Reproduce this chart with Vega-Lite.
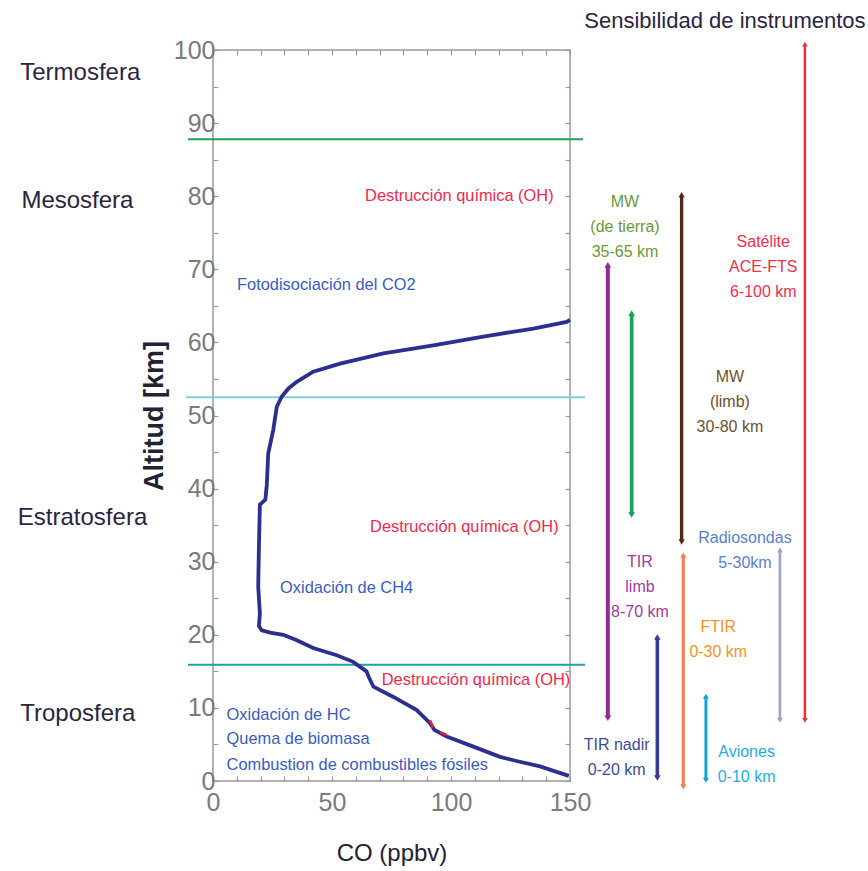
{
  "$schema": "https://vega.github.io/schema/vega-lite/v6.json",
  "autosize": {"type": "none"},
  "padding": {"left": 213, "top": 50, "right": 298, "bottom": 90},
  "width": 357,
  "height": 731,
  "background": "white",
  "config": {
    "view": {"stroke": "#9a9a9a", "strokeWidth": 1.5},
    "font": "Liberation Sans, Arial, sans-serif"
  },
  "datasets": {
    "profile": [
      {"co": 149.5, "alt": 0.7}, {"co": 137.4, "alt": 2.0}, {"co": 128, "alt": 2.7},
      {"co": 120.6, "alt": 3.3}, {"co": 109.4, "alt": 4.7}, {"co": 98.2, "alt": 6.1},
      {"co": 93, "alt": 7.0}, {"co": 91.2, "alt": 7.9}, {"co": 85.6, "alt": 9.7},
      {"co": 75.8, "alt": 11.5}, {"co": 67.4, "alt": 12.9}, {"co": 65.5, "alt": 14.2},
      {"co": 64.5, "alt": 15.0}, {"co": 58.9, "alt": 16.3}, {"co": 52, "alt": 17.2},
      {"co": 42.1, "alt": 18.2}, {"co": 35, "alt": 19.3}, {"co": 29.5, "alt": 20.0},
      {"co": 24, "alt": 20.3}, {"co": 20.5, "alt": 20.6}, {"co": 19.3, "alt": 21.2},
      {"co": 19.7, "alt": 22.9}, {"co": 19.0, "alt": 26.6}, {"co": 19.3, "alt": 32.1},
      {"co": 19.7, "alt": 37.8}, {"co": 22.0, "alt": 38.5}, {"co": 22.6, "alt": 40.5},
      {"co": 23.2, "alt": 44.8}, {"co": 25.3, "alt": 48.0}, {"co": 26.8, "alt": 51.2},
      {"co": 28.9, "alt": 52.6}, {"co": 31.7, "alt": 53.7}, {"co": 35.2, "alt": 54.6},
      {"co": 42.1, "alt": 56.0}, {"co": 53.4, "alt": 57.1}, {"co": 71.6, "alt": 58.5},
      {"co": 92.6, "alt": 59.6}, {"co": 113.6, "alt": 60.8}, {"co": 134.6, "alt": 61.9},
      {"co": 148.6, "alt": 62.8}, {"co": 150, "alt": 63.1}
    ],
    "redbits": [
      {"seg": "a", "co": 91.2, "alt": 8.3}, {"seg": "a", "co": 92.4, "alt": 7.3},
      {"seg": "b", "co": 95.4, "alt": 6.7}, {"seg": "b", "co": 98.2, "alt": 6.3}
    ],
    "boundaries": [
      {"layer": "mesopausa", "alt": 87.8, "from": -10.5, "to": 155.5},
      {"layer": "estratopausa", "alt": 52.5, "from": -11.3, "to": 156.3},
      {"layer": "tropopausa", "alt": 15.9, "from": -10.5, "to": 156.3}
    ],
    "regions": [
      {"name": "Termosfera", "x": -81, "alt": 96.9},
      {"name": "Mesosfera", "x": -80.5, "alt": 79.3},
      {"name": "Estratosfera", "x": -82, "alt": 36.0},
      {"name": "Troposfera", "x": -81, "alt": 9.2}
    ],
    "destruction": [
      {"text": "Destrucción química (OH)", "x": 63.9, "alt": 80.0},
      {"text": "Destrucción química (OH)", "x": 66.0, "alt": 34.7},
      {"text": "Destrucción química (OH)", "x": 70.9, "alt": 13.8}
    ],
    "sources": [
      {"text": "Fotodisociación del CO2", "x": 10.1, "alt": 67.9},
      {"text": "Oxidación de CH4", "x": 28.2, "alt": 26.4},
      {"text": "Oxidación de HC", "x": 5.7, "alt": 9.0},
      {"text": "Quema de biomasa", "x": 5.7, "alt": 5.8},
      {"text": "Combustion de combustibles fósiles", "x": 5.7, "alt": 2.2}
    ],
    "instruments": [
      {"inst": "TIR limb", "x": 165.9, "top": 70.6, "bottom": 8.6},
      {"inst": "MW tierra", "x": 175.9, "top": 64.0, "bottom": 36.4},
      {"inst": "TIR nadir", "x": 186.7, "top": 19.7, "bottom": 0.4},
      {"inst": "MW limb", "x": 196.9, "top": 80.2, "bottom": 32.7},
      {"inst": "FTIR", "x": 197.6, "top": 30.9, "bottom": -0.8},
      {"inst": "Aviones", "x": 207.1, "top": 11.6, "bottom": 0.1},
      {"inst": "Radiosondas", "x": 238.2, "top": 31.6, "bottom": 8.3},
      {"inst": "Satelite", "x": 248.7, "top": 100.8, "bottom": 8.3}
    ],
    "instlabels": [
      {"inst": "MW tierra", "text": "MW\n(de tierra)\n35-65 km", "x": 173.1, "alt": 79.25},
      {"inst": "MW limb", "text": "MW\n(limb)\n30-80 km", "x": 217.2, "alt": 55.3},
      {"inst": "Satelite", "text": "Satélite\nACE-FTS\n6-100 km", "x": 231.2, "alt": 73.8},
      {"inst": "TIR limb", "text": "TIR\nlimb\n8-70 km", "x": 179.4, "alt": 30.0},
      {"inst": "Radiosondas", "text": "Radiosondas\n5-30km", "x": 223.5, "alt": 33.2},
      {"inst": "FTIR", "text": "FTIR\n0-30 km", "x": 212.3, "alt": 21.1},
      {"inst": "TIR nadir", "text": "TIR nadir\n0-20 km", "x": 169.6, "alt": 4.9},
      {"inst": "Aviones", "text": "Aviones\n0-10 km", "x": 224.2, "alt": 4.0}
    ],
    "heading": [
      {"text": "Sensibilidad de instrumentos", "x": 215.1, "alt": 103.9}
    ]
  },
  "layer": [
    {
      "data": {"name": "boundaries"},
      "mark": {"type": "rule", "strokeWidth": 2},
      "encoding": {
        "x": {"field": "from", "type": "quantitative",
              "scale": {"domain": [0, 150], "nice": false, "zero": false},
              "axis": {"orient": "top", "values": [0,10,20,30,40,50,60,70,80,90,100,110,120,130,140,150],
                       "labels": false, "tickSize": -5, "tickColor": "#999", "tickWidth": 1.2,
                       "domain": false, "grid": false, "title": null}},
        "x2": {"field": "to"},
        "y": {"field": "alt", "type": "quantitative",
              "scale": {"domain": [0, 100], "nice": false, "zero": false},
              "axis": {"orient": "right", "values": [0,5,10,15,20,25,30,35,40,45,50,55,60,65,70,75,80,85,90,95,100],
                       "labels": false, "tickSize": -5, "tickColor": "#999", "tickWidth": 1.2,
                       "domain": false, "grid": false, "title": null}},
        "color": {"field": "layer", "type": "nominal",
                  "scale": {"domain": ["mesopausa", "estratopausa", "tropopausa"], "range": ["#22a050", "#7ccfdc", "#1ea3a3"]},
                  "legend": null}
      }
    },
    {
      "data": {"name": "profile"},
      "mark": {"type": "line", "color": "#2b2f8f", "strokeWidth": 3.8},
      "encoding": {
        "x": {"field": "co", "type": "quantitative",
              "axis": {"orient": "bottom", "values": [0,10,20,30,40,50,60,70,80,90,100,110,120,130,140,150],
                       "labelExpr": "datum.value % 50 === 0 ? datum.label : ''",
                       "tickSize": -5, "tickColor": "#999", "tickWidth": 1.2, "domain": false, "grid": false,
                       "labelColor": "#7a7a7a", "labelFontSize": 25, "labelPadding": 14, "labelFlush": false,
                       "title": "CO (ppbv)", "titleFontSize": 24, "titleFontWeight": "normal", "titleColor": "#222233",
                       "titlePadding": 26}},
        "y": {"field": "alt", "type": "quantitative",
              "axis": {"orient": "left", "values": [0,5,10,15,20,25,30,35,40,45,50,55,60,65,70,75,80,85,90,95,100],
                       "labelExpr": "datum.value % 10 === 0 ? datum.label : ''",
                       "tickSize": -5, "tickColor": "#999", "tickWidth": 1.2, "domain": false, "grid": false,
                       "labelColor": "#7a7a7a", "labelFontSize": 25, "labelPadding": 3, "labelFlush": false,
                       "title": "Altitud [km]", "titleFontSize": 27, "titleFontWeight": "bold", "titleColor": "#222233",
                       "titlePadding": 5}},
        "order": {"field": "alt", "type": "quantitative"}
      }
    },
    {
      "data": {"name": "redbits"},
      "mark": {"type": "line", "color": "#e8203a", "strokeWidth": 2.5},
      "encoding": {
        "x": {"field": "co", "type": "quantitative", "axis": null},
        "y": {"field": "alt", "type": "quantitative", "axis": null},
        "detail": {"field": "seg"},
        "order": {"field": "alt", "type": "quantitative"}
      }
    },
    {
      "data": {"name": "instruments"},
      "mark": {"type": "rule"},
      "encoding": {
        "x": {"field": "x", "type": "quantitative", "axis": null},
        "y": {"field": "top", "type": "quantitative", "axis": null},
        "y2": {"field": "bottom"},
        "color": {"field": "inst", "type": "nominal",
                  "scale": {"domain": ["TIR limb", "MW tierra", "TIR nadir", "MW limb", "FTIR", "Aviones", "Radiosondas", "Satelite"],
                            "range": ["#8c2f8f", "#1fa35a", "#3b3b8f", "#4e2a1a", "#f08050", "#0aa6d8", "#9da3c9", "#e8333a"]},
                  "legend": null},
        "strokeWidth": {"field": "inst", "type": "ordinal",
                        "scale": {"domain": ["TIR limb", "MW tierra", "TIR nadir", "MW limb", "FTIR", "Aviones", "Radiosondas", "Satelite"],
                                  "range": [4, 2.5, 2.5, 4, 7, 6, 5, 5]},
                        "legend": null}
      }
    },
    {
      "data": {"name": "instruments"},
      "transform": [{"fold": ["top", "bottom"], "as": ["end", "alt"]}],
      "mark": {"type": "point", "filled": true, "opacity": 1},
      "encoding": {
        "x": {"field": "x", "type": "quantitative", "axis": null},
        "y": {"field": "alt", "type": "quantitative", "axis": null},
        "shape": {"field": "end", "type": "nominal",
                  "scale": {"domain": ["top", "bottom"], "range": ["triangle-up", "triangle-down"]}, "legend": null},
        "color": {"field": "inst", "type": "nominal",
                  "scale": {"domain": ["TIR limb", "MW tierra", "TIR nadir", "MW limb", "FTIR", "Aviones", "Radiosondas", "Satelite"],
                            "range": ["#8c2f8f", "#1fa35a", "#3b3b8f", "#4e2a1a", "#f08050", "#0aa6d8", "#9da3c9", "#e8333a"]},
                  "legend": null},
        "size": {"field": "inst", "type": "ordinal",
                 "scale": {"domain": ["TIR limb", "MW tierra", "TIR nadir", "MW limb", "FTIR", "Aviones", "Radiosondas", "Satelite"],
                           "range": [45, 30, 30, 50, 70, 110, 70, 60]},
                 "legend": null}
      }
    },
    {
      "data": {"name": "regions"},
      "mark": {"type": "text", "align": "left", "baseline": "middle", "fontSize": 24, "color": "#2b2440"},
      "encoding": {
        "x": {"field": "x", "type": "quantitative", "axis": null},
        "y": {"field": "alt", "type": "quantitative", "axis": null},
        "text": {"field": "name"}
      }
    },
    {
      "data": {"name": "destruction"},
      "mark": {"type": "text", "align": "left", "baseline": "middle", "fontSize": 16.4, "color": "#f0284e"},
      "encoding": {
        "x": {"field": "x", "type": "quantitative", "axis": null},
        "y": {"field": "alt", "type": "quantitative", "axis": null},
        "text": {"field": "text"}
      }
    },
    {
      "data": {"name": "sources"},
      "mark": {"type": "text", "align": "left", "baseline": "middle", "fontSize": 16.4, "color": "#3a5cc0"},
      "encoding": {
        "x": {"field": "x", "type": "quantitative", "axis": null},
        "y": {"field": "alt", "type": "quantitative", "axis": null},
        "text": {"field": "text"}
      }
    },
    {
      "data": {"name": "instlabels"},
      "mark": {"type": "text", "align": "center", "baseline": "middle", "fontSize": 16, "lineBreak": "\n", "lineHeight": 25},
      "encoding": {
        "x": {"field": "x", "type": "quantitative", "axis": null},
        "y": {"field": "alt", "type": "quantitative", "axis": null},
        "text": {"field": "text"},
        "color": {"field": "inst", "type": "nominal",
                  "scale": {"domain": ["TIR limb", "MW tierra", "TIR nadir", "MW limb", "FTIR", "Aviones", "Radiosondas", "Satelite"],
                            "range": ["#a03c9c", "#6a9a38", "#3d4a9a", "#6b5030", "#f7941d", "#29abe2", "#5a7fc8", "#f0304a"]},
                  "legend": null}
      }
    },
    {
      "data": {"name": "heading"},
      "mark": {"type": "text", "align": "center", "baseline": "middle", "fontSize": 22, "color": "#2b2440"},
      "encoding": {
        "x": {"field": "x", "type": "quantitative", "axis": null},
        "y": {"field": "alt", "type": "quantitative", "axis": null},
        "text": {"field": "text"}
      }
    }
  ],
  "resolve": {
    "scale": {"color": "independent", "strokeWidth": "independent", "size": "independent", "shape": "independent"},
    "axis": {"x": "independent", "y": "independent"}
  }
}
